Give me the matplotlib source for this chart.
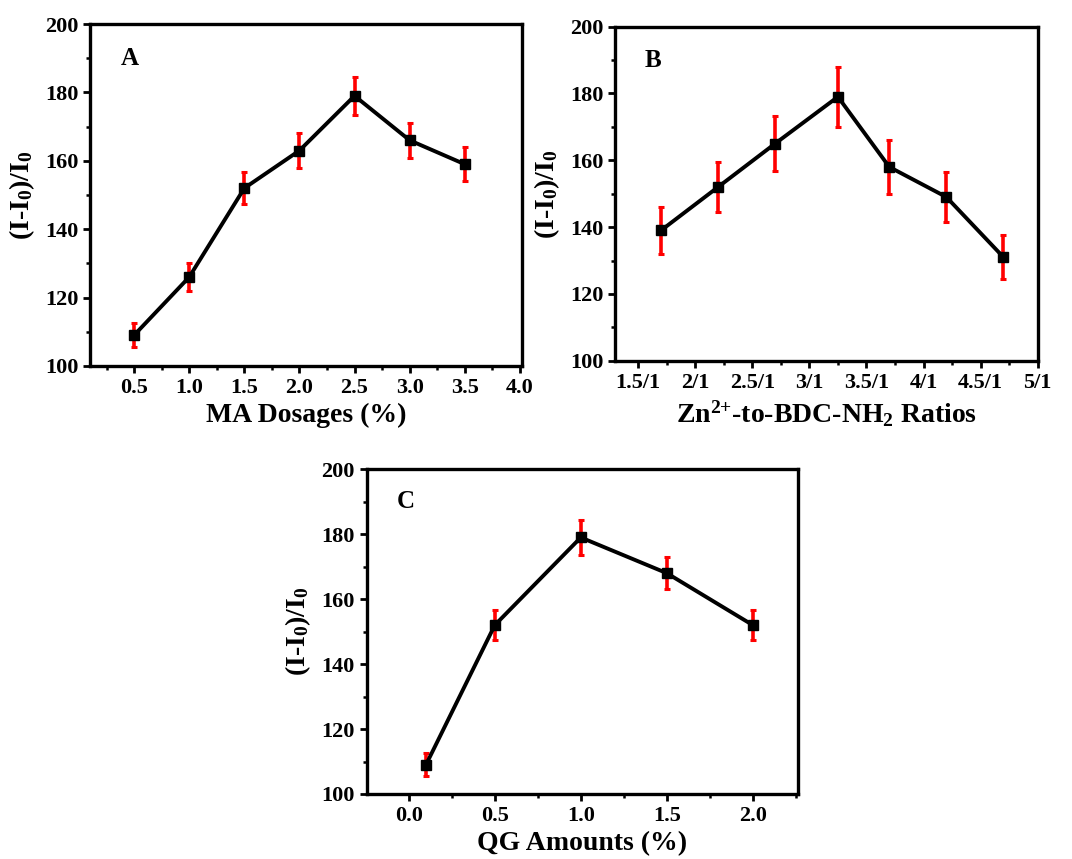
import numpy as np
import matplotlib
matplotlib.use('Agg')
import matplotlib.pyplot as plt
from matplotlib.ticker import MultipleLocator, FixedLocator

matplotlib.rcParams.update({
    'font.family': 'Liberation Serif',
    'font.weight': 'bold',
    'mathtext.fontset': 'custom',
    'mathtext.rm': 'Liberation Serif:bold',
    'mathtext.bf': 'Liberation Serif:bold',
    'mathtext.default': 'rm',
})

# Panel A: MA dosages
xa = [0.5, 1.0, 1.5, 2.0, 2.5, 3.0, 3.5]
ya = [109, 126, 152, 163, 179, 166, 159]
ea = [3.5, 4.0, 4.7, 5.0, 5.5, 5.2, 5.0]

# Panel B: Zn2+-to-BDC-NH2 ratios
xb = [1.7, 2.2, 2.7, 3.25, 3.7, 4.2, 4.7]
yb = [139, 152, 165, 179, 158, 149, 131]
eb = [7.0, 7.6, 8.2, 9.0, 8.0, 7.5, 6.6]
b_ticks = [1.5, 2.0, 2.5, 3.0, 3.5, 4.0, 4.5, 5.0]
b_labels = ['1.5/1', '2/1', '2.5/1', '3/1', '3.5/1', '4/1', '4.5/1', '5/1']

# Panel C: QG amounts
xc = [0.1, 0.5, 1.0, 1.5, 2.0]
yc = [109, 152, 179, 168, 152]
ec = [3.5, 4.7, 5.5, 5.0, 4.7]

ylab = '(I-I$_0$)/I$_0$'

fig = plt.figure(figsize=(10.72, 8.59), dpi=100)
axA = fig.add_axes([0.084, 0.574, 0.403, 0.398])
axB = fig.add_axes([0.574, 0.580, 0.394, 0.389])
axC = fig.add_axes([0.342, 0.0757, 0.402, 0.378])


def style(ax, letter, xlabel):
    for s in ax.spines.values():
        s.set_linewidth(2.4)
    ax.tick_params(which='major', direction='out', length=5, width=2,
                   labelsize=16, top=False, right=False)
    ax.tick_params(which='minor', direction='out', length=3, width=1.8,
                   top=False, right=False)
    ax.set_ylim(100, 200)
    ax.yaxis.set_major_locator(MultipleLocator(20))
    ax.yaxis.set_minor_locator(MultipleLocator(10))
    ax.set_ylabel(ylab, fontsize=20, fontweight='bold', labelpad=6)
    ax.set_xlabel(xlabel, fontsize=20, fontweight='bold', labelpad=4)
    ax.text(0.07, 0.88, letter, transform=ax.transAxes, fontsize=18,
            fontweight='bold')
    for lab in ax.get_xticklabels() + ax.get_yticklabels():
        lab.set_fontweight('bold')


def draw(ax, x, y, e):
    ax.errorbar(x, y, yerr=e, fmt='none', ecolor='#ff0000', elinewidth=2.6,
                capsize=2.5, capthick=2.2, zorder=2)
    ax.plot(x, y, color='black', linewidth=2.8, marker='s', markersize=6.5,
            markerfacecolor='black', zorder=3)


draw(axA, xa, ya, ea)
axA.set_xlim(0.1, 4.02)
axA.xaxis.set_major_locator(FixedLocator([0.5, 1.0, 1.5, 2.0, 2.5, 3.0, 3.5, 4.0]))
axA.xaxis.set_minor_locator(MultipleLocator(0.25))
axA.set_xticklabels(['0.5', '1.0', '1.5', '2.0', '2.5', '3.0', '3.5', '4.0'])
style(axA, 'A', 'MA Dosages (%)')

draw(axB, xb, yb, eb)
axB.set_xlim(1.3, 5.0)
axB.xaxis.set_major_locator(FixedLocator(b_ticks))
axB.set_xticklabels(b_labels)
axB.xaxis.set_minor_locator(MultipleLocator(0.25))
style(axB, 'B', 'Zn$^{2{+}}$-to-BDC-NH$_2$ Ratios')

draw(axC, xc, yc, ec)
axC.set_xlim(-0.245, 2.26)
axC.xaxis.set_major_locator(FixedLocator([0.0, 0.5, 1.0, 1.5, 2.0]))
axC.set_xticklabels(['0.0', '0.5', '1.0', '1.5', '2.0'])
axC.xaxis.set_minor_locator(MultipleLocator(0.25))
style(axC, 'C', 'QG Amounts (%)')

plt.savefig('out.png', dpi=100)
